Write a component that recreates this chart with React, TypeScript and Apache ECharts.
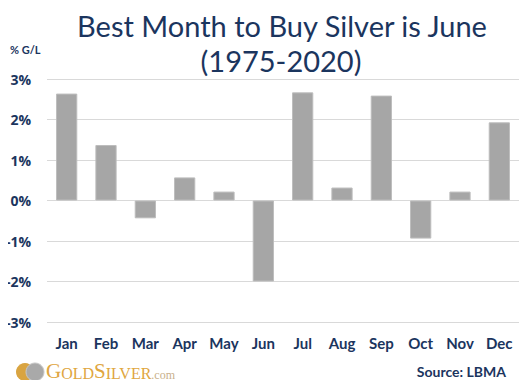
import React, { useEffect, useRef } from "react";
import * as echarts from "echarts";

const months = ["Jan", "Feb", "Mar", "Apr", "May", "Jun", "Jul", "Aug", "Sep", "Oct", "Nov", "Dec"];
const returns = [2.64, 1.37, -0.44, 0.57, 0.22, -2.0, 2.67, 0.32, 2.59, -0.94, 0.22, 1.93];
const yMin = -3;
const yMax = 3;
const yStep = 1;

const NAVY = "#1B355E";
const FONT = "Lato";

export default function App() {
  const ref = useRef<HTMLDivElement>(null);
  useEffect(() => {
    if (!ref.current) return;
    const chart = echarts.init(ref.current, undefined, { renderer: "svg" });
    const titleStyle = {
      fontFamily: FONT,
      fontWeight: "normal",
      fontSize: 29,
      lineHeight: 32,
      color: NAVY,
    };
    chart.setOption({
      animation: false,
      backgroundColor: "#ffffff",
      title: [
        {
          text: "Best Month to Buy Silver is June",
          left: 282,
          textAlign: "center",
          top: 9,
          padding: 0,
          textStyle: titleStyle,
        },
        {
          text: "(1975-2020)",
          left: 281,
          textAlign: "center",
          top: 44,
          padding: 0,
          textStyle: titleStyle,
        },
      ],
      grid: { left: 47, right: 9, top: 79, bottom: 66 },
      xAxis: {
        type: "category",
        data: months,
        axisLine: { show: false },
        axisTick: { show: false },
        axisLabel: {
          color: NAVY,
          fontFamily: FONT,
          fontWeight: "bold",
          fontSize: 15,
          margin: 13,
        },
      },
      yAxis: {
        type: "value",
        min: yMin,
        max: yMax,
        interval: yStep,
        axisLine: { show: false },
        axisTick: { show: false },
        splitLine: { lineStyle: { color: "#D9D9D9", width: 1 } },
        axisLabel: {
          formatter: (v: number) => `${v}%`,
          color: NAVY,
          fontFamily: "Open Sans",
          fontWeight: "bold",
          fontSize: 14,
          margin: 16,
        },
      },
      series: [
        {
          type: "bar",
          data: returns,
          barWidth: "54%",
          itemStyle: { color: "#A6A6A6", borderColor: "#BDBDBD", borderWidth: 1 },
        },
      ],
      graphic: [
        {
          type: "text",
          left: 10,
          top: 44,
          style: {
            text: "% G/L",
            fill: NAVY,
            font: `bold 11px '${FONT}'`,
          },
        },
        {
          type: "circle",
          shape: { cx: 25, cy: 372, r: 9 },
          style: { fill: "#D9A441" },
        },
        {
          type: "circle",
          shape: { cx: 35, cy: 372, r: 9 },
          style: { fill: "#A9A9A9", stroke: "#C8C8C8", lineWidth: 1 },
        },
        {
          type: "text",
          left: 46,
          top: 360,
          style: {
            text: "{b|G}{s|OLD}{b|S}{s|ILVER}{c|.com}",
            rich: {
              b: { fill: "#E0A640", font: "21px 'Liberation Serif'", verticalAlign: "bottom" },
              s: { fill: "#E0A640", font: "16px 'Liberation Serif'", verticalAlign: "bottom" },
              c: { fill: "#C9B08A", font: "12px 'Liberation Serif'", verticalAlign: "bottom" },
            },
          },
        },
        {
          type: "text",
          right: 22,
          top: 364,
          style: {
            text: "Source: LBMA",
            fill: NAVY,
            font: `bold 14px '${FONT}'`,
          },
        },
      ],
    });
    return () => chart.dispose();
  }, []);
  return <div ref={ref} style={{ width: 528, height: 388, margin: -8 }} />;
}
